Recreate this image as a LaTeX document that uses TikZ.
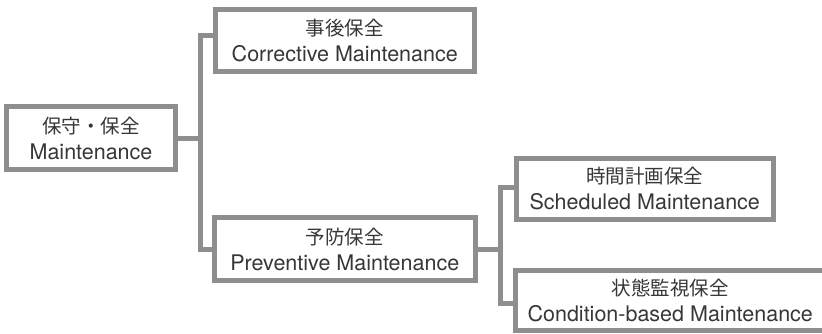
\documentclass[tikz,border=0pt]{standalone}
\usepackage{fontspec}
\setmainfont{TeX Gyre Heros}
\newfontfamily\jp{Noto Sans CJK JP}
\definecolor{boxgray}{RGB}{142,142,144}
\definecolor{txt}{RGB}{55,55,55}
\newcommand{\jline}[1]{{\jp\fontsize{19.5}{26}\selectfont #1}}
\begin{document}
\begin{tikzpicture}[x=1pt,y=-1pt,
  box/.style={draw=boxgray, line width=5pt, fill=white, inner sep=0pt,
    align=center, text=txt, font=\fontsize{21.5}{26}\selectfont},
  conn/.style={draw=boxgray, line width=5pt}]
\clip (0,0) rectangle (822,333);
\fill[white] (0,0) rectangle (822,333);
% junction points
\coordinate (j1) at (200,138);
\coordinate (j2) at (500,249);
% boxes
\node[box, minimum width=169pt, minimum height=62.5pt] (b1) at (91,138)
  {\jline{保守・保全}\\Maintenance};
\node[box, minimum width=259.5pt, minimum height=61.5pt] (b2) at (344.75,40.25)
  {\jline{事後保全}\\Corrective Maintenance};
\node[box, minimum width=260.5pt, minimum height=63pt] (b3) at (344.75,249)
  {\jline{予防保全}\\Preventive Maintenance};
\node[box, minimum width=257.5pt, minimum height=61pt] (b4) at (644.75,188.5)
  {\jline{時間計画保全}\\Scheduled Maintenance};
\node[box, minimum width=309.5pt, minimum height=60pt] (b5) at (670.25,300)
  {\jline{状態監視保全}\\Condition-based Maintenance};
% connectors
\draw[conn] (b1.east) -- (j1);
\draw[conn] ([yshift=5pt]b2.west) -| (j1) |- (b3.west);
\draw[conn] (b3.east) -- (j2);
\draw[conn] ([yshift=1.5pt]b4.west) -| (j2) |- ([yshift=-3pt]b5.west);
\end{tikzpicture}
\end{document}
